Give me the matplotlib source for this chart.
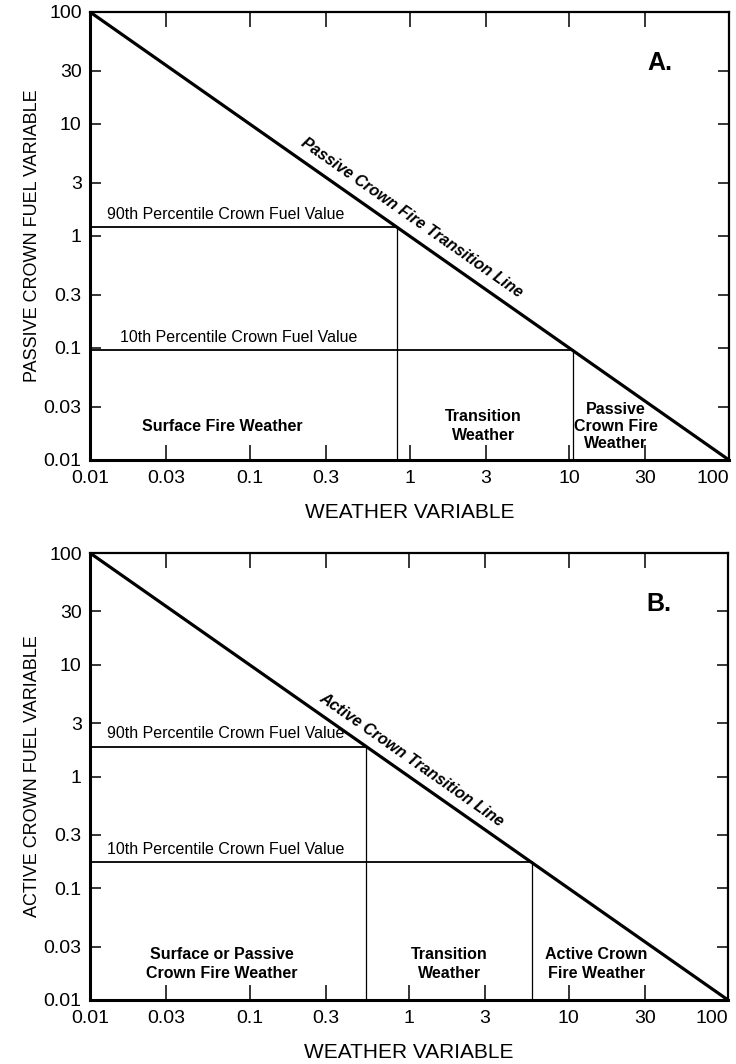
import numpy as np
import matplotlib
matplotlib.use("Agg")
import matplotlib.pyplot as plt
from matplotlib import font_manager

# fonts: narrow look for the in-plot text, if the narrow face is installed
names = {f.name for f in font_manager.fontManager.ttflist}
narrow = 'Liberation Sans Narrow' if 'Liberation Sans Narrow' in names else 'Liberation Sans'
plt.rcParams['font.family'] = ['Liberation Sans', 'DejaVu Sans']

# data
tick_vals = [0.01, 0.03, 0.1, 0.3, 1, 3, 10, 30, 100]
tick_labels = ['0.01', '0.03', '0.1', '0.3', '1', '3', '10', '30', '100']
line_x = [0.01, 100]
line_y = [100, 0.01]
p90_fuel = [1.2, 1.85]        # 90th percentile crown fuel value, panel A / B
p90_weather = [0.83, 0.54]    # where it meets the transition line
p10_fuel = [0.095, 0.17]      # 10th percentile crown fuel value
p10_weather = [10.5, 5.9]
panel_tags = ['A.', 'B.']
ylabels = ['PASSIVE CROWN FUEL VARIABLE', 'ACTIVE CROWN FUEL VARIABLE']
line_names = ['Passive Crown Fire Transition Line', 'Active Crown Transition Line']
region_names = [
    ['Surface Fire Weather', 'Transition\nWeather', 'Passive\nCrown Fire\nWeather'],
    ['Surface or Passive\nCrown Fire Weather', 'Transition\nWeather', 'Active Crown\nFire Weather'],
]
region_x = [[0.067, 2.9, 19.5], [0.067, 1.8, 15]]
region_y = [[0.02, 0.02, 0.02], [0.021, 0.021, 0.021]]
region_spacing = [[1.3, 1.35, 1.15], [1.3, 1.35, 1.3]]
p90_text_x = [0.0128, 0.0128]
p10_text_x = [0.0154, 0.0128]

fig = plt.figure(figsize=(7.36, 10.64), dpi=100)
boxes = [[90/736, 1-460/1064, 639/736, 448/1064],
         [90/736, 1-1000/1064, 638/736, 447/1064]]

for i in range(2):
    ax = fig.add_axes(boxes[i])
    ax.set_xscale('log')
    ax.set_yscale('log')
    ax.set_xlim(0.01, 100)
    ax.set_ylim(0.01, 100)

    ax.plot(line_x, line_y, color='black', lw=2.3, solid_capstyle='butt')
    # percentile lines
    ax.plot([0.01, p90_weather[i]], [p90_fuel[i], p90_fuel[i]], color='black', lw=1.3)
    ax.plot([p90_weather[i], p90_weather[i]], [0.01, p90_fuel[i]], color='black', lw=0.9)
    ax.plot([0.01, p10_weather[i]], [p10_fuel[i], p10_fuel[i]], color='black', lw=1.3)
    ax.plot([p10_weather[i], p10_weather[i]], [0.01, p10_fuel[i]], color='black', lw=0.9)

    ax.text(p90_text_x[i], p90_fuel[i] * 1.12, '90th Percentile Crown Fuel Value',
            family=narrow, fontsize=11.5, ha='left', va='bottom')
    ax.text(p10_text_x[i], p10_fuel[i] * 1.12, '10th Percentile Crown Fuel Value',
            family=narrow, fontsize=11.5, ha='left', va='bottom')

    ax.text(1.03, 1.45 if i == 0 else 1.4, line_names[i], family=narrow, fontsize=11.5,
            fontweight='bold', fontstyle='italic', rotation=-35,
            rotation_mode='anchor', ha='center', va='center')

    for name, rx, ry, ls in zip(region_names[i], region_x[i], region_y[i], region_spacing[i]):
        ax.text(rx, ry, name, family=narrow, fontsize=11.5, fontweight='bold',
                ha='center', va='center', linespacing=ls)

    ax.text(0.892, 0.887, panel_tags[i], transform=ax.transAxes, family=narrow,
            fontsize=18, fontweight='bold', ha='center', va='center')

    ax.set_xticks(tick_vals)
    ax.set_xticklabels(tick_labels, family=narrow, fontsize=14)
    ax.set_yticks(tick_vals)
    ax.set_yticklabels(tick_labels, family=narrow, fontsize=14)
    ax.get_xticklabels()[-1].set_horizontalalignment('right')
    ax.minorticks_off()
    ax.tick_params(axis='x', which='major', direction='in', length=11, width=1.1,
                   top=True, pad=7)
    ax.tick_params(axis='y', which='major', direction='in', length=8, width=1.1,
                   right=True, pad=6)
    ax.tick_params(axis='x', labeltop=False)
    ax.tick_params(axis='y', labelright=False)
    for s in ['left', 'bottom']:
        ax.spines[s].set_linewidth(2.2)
    for s in ['top', 'right']:
        ax.spines[s].set_linewidth(1.6)

    ax.set_xlabel('WEATHER VARIABLE', fontsize=15, labelpad=12)
    ax.set_ylabel(ylabels[i], fontsize=13, labelpad=2)

fig.savefig('out.png', dpi=100)
